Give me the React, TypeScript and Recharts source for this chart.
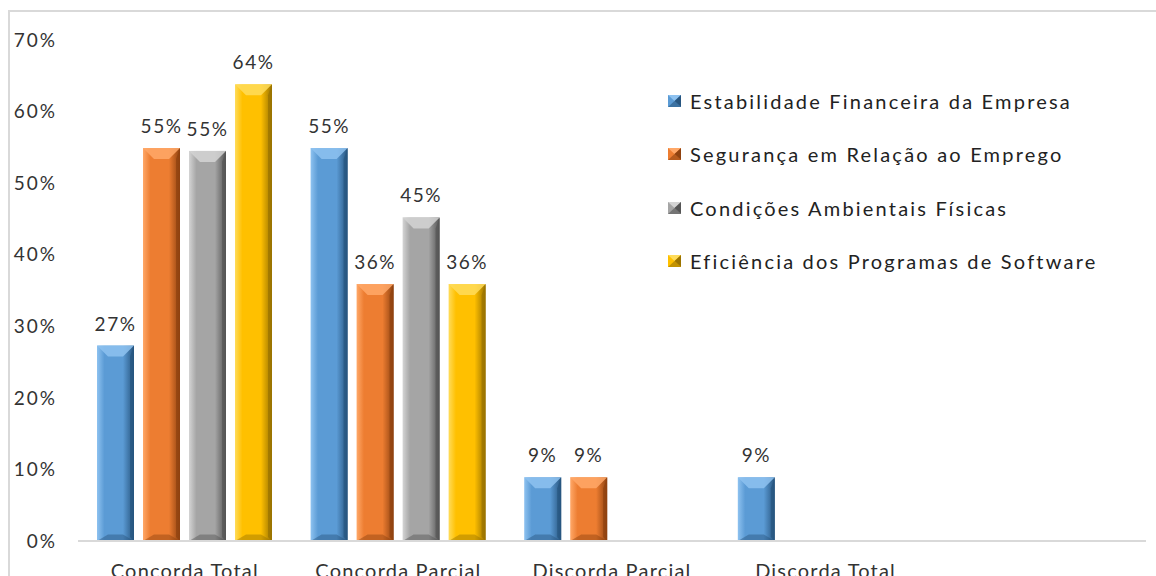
import React from 'react';
import { BarChart, Bar, XAxis, YAxis, LabelList } from 'recharts';

const categories = ['Concorda Total', 'Concorda Parcial', 'Discorda Parcial', 'Discorda Total', ''];
const estabilidade = [27.3, 54.9, 8.9, 8.9, null];
const seguranca = [54.9, 35.9, 8.9, null, null];
const condicoes = [54.5, 45.2, null, null, null];
const eficiencia = [63.8, 35.9, null, null, null];
const yTicks = [0, 10, 20, 30, 40, 50, 60, 70];

const series = [
  { key: 'est', name: 'Estabilidade Financeira da Empresa', base: '#5b9bd5', light: '#8ec2f0', dark: '#27557f' },
  { key: 'seg', name: 'Segurança em Relação ao Emprego', base: '#ed7d31', light: '#ffa868', dark: '#8f4210' },
  { key: 'cond', name: 'Condições Ambientais Físicas', base: '#a5a5a5', light: '#d4d4d4', dark: '#555555' },
  { key: 'efi', name: 'Eficiência dos Programas de Software', base: '#ffc000', light: '#ffdc5a', dark: '#9a7300' },
];

const data = categories.map((c, i) => ({
  name: c,
  est: estabilidade[i],
  seg: seguranca[i],
  cond: condicoes[i],
  efi: eficiencia[i],
}));

const FONT = 'Lato, "Liberation Sans", sans-serif';
const TEXT = '#333333';

function makeBevel(s: typeof series[number]) {
  return (props: any) => {
    const { x, y, width, height } = props;
    if (!height || height <= 0) return <g />;
    const b = Math.min(11, width / 3, height / 2);
    const gid = `g-${s.key}`;
    return (
      <g>
        <defs>
          <linearGradient id={gid} x1="0" y1="0" x2="1" y2="0">
            <stop offset="0%" stopColor={s.light} />
            <stop offset="20%" stopColor={s.base} />
            <stop offset="70%" stopColor={s.base} />
            <stop offset="100%" stopColor={s.dark} />
          </linearGradient>
        </defs>
        <rect x={x} y={y} width={width} height={height} fill={`url(#${gid})`} />
        <polygon
          points={`${x},${y} ${x + width},${y} ${x + width - b},${y + b} ${x + b},${y + b}`}
          fill={s.light}
          opacity={0.85}
        />
        <polygon
          points={`${x + width},${y} ${x + width},${y + height} ${x + width - 4},${y + height - 4} ${x + width - 4},${y + b}`}
          fill={s.dark}
          opacity={0.7}
        />
        <polygon
          points={`${x},${y + height} ${x + width},${y + height} ${x + width - b},${y + height - b * 0.6} ${x + b},${y + height - b * 0.6}`}
          fill={s.dark}
          opacity={0.45}
        />
      </g>
    );
  };
}

const LegendMarker = ({ s }: { s: typeof series[number] }) => (
  <svg width={13} height={12} style={{ marginRight: 9, flexShrink: 0 }}>
    <rect x={0} y={0} width={13} height={12} fill={s.base} />
    <polygon points="0,0 13,0 6.5,6" fill={s.light} />
    <polygon points="13,0 13,12 6.5,6" fill={s.dark} />
    <polygon points="0,12 13,12 6.5,6" fill={s.dark} opacity={0.6} />
  </svg>
);

const pct = (v: any) => (v == null || v === 0 ? '' : `${Math.round(v)}%`);

export default function App() {
  return (
    <div style={{ position: 'absolute', left: 0, top: 0, width: 1156, height: 576, overflow: 'hidden', background: '#fff' }}>
      <div
        style={{
          position: 'absolute',
          left: 8,
          top: 10,
          width: 1300,
          height: 800,
          borderLeft: '2px solid #d9d9d9',
          borderTop: '2px solid #d9d9d9',
        }}
      />
      <div style={{ position: 'absolute', left: 0, top: 0 }}>
        <BarChart
          width={1156}
          height={576}
          data={data}
          margin={{ top: 40, right: 10, bottom: 5, left: 0 }}
          barSize={37}
          barGap={9}
        >
          <XAxis
            dataKey="name"
            axisLine={{ stroke: '#d9d9d9', strokeWidth: 2 }}
            tickLine={false}
            tickSize={0}
            tickMargin={23}
            height={30}
            interval={0}
            tick={{ fill: TEXT, fontSize: 20, fontFamily: FONT, letterSpacing: 1.2 }}
          />
          <YAxis
            domain={[0, 70]}
            ticks={yTicks}
            width={78}
            axisLine={false}
            tickLine={false}
            tickSize={0}
            tickMargin={21}
            tickFormatter={(v) => `${v}%`}
            tick={{ fill: TEXT, fontSize: 19, fontFamily: FONT, letterSpacing: 2 }}
          />
          {series.map((s) => (
            <Bar key={s.key} dataKey={s.key} name={s.name} fill={s.base} shape={makeBevel(s)} isAnimationActive={false}>
              <LabelList
                dataKey={s.key}
                position="top"
                offset={15}
                formatter={pct}
                style={{ fill: TEXT, fontSize: 19, fontFamily: FONT, letterSpacing: 1.5 }}
              />
            </Bar>
          ))}
        </BarChart>
      </div>
      <div
        style={{
          position: 'absolute',
          left: 668,
          top: 74,
          fontFamily: FONT,
          fontSize: 20,
          color: '#222',
          letterSpacing: 2.2,
          whiteSpace: 'nowrap',
        }}
      >
        {series.map((s) => (
          <div key={s.key} style={{ display: 'flex', alignItems: 'center', height: 53.5 }}>
            <LegendMarker s={s} />
            <span>{s.name}</span>
          </div>
        ))}
      </div>
    </div>
  );
}
